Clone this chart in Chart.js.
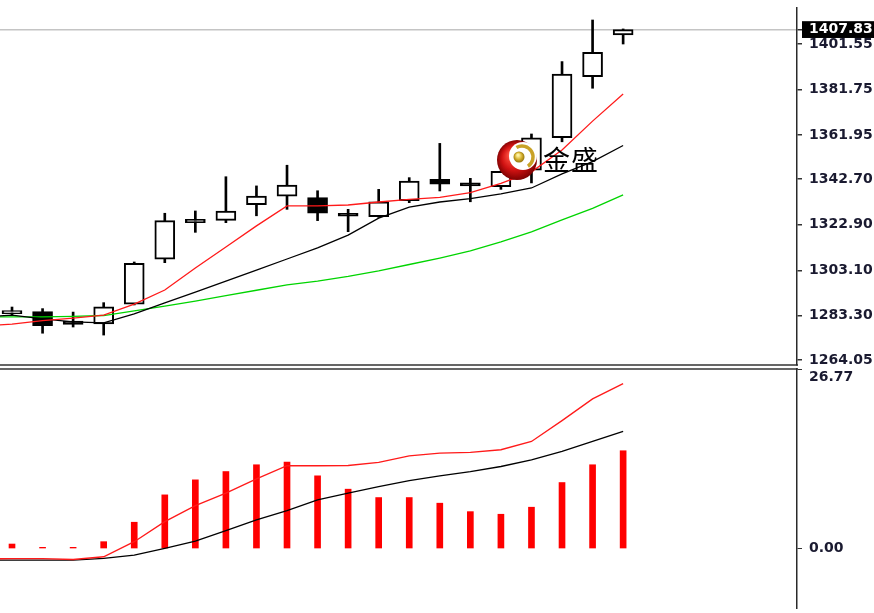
<!DOCTYPE html>
<html>
<head>
<meta charset="utf-8">
<script src="https://cdn.jsdelivr.net/npm/chart.js@4.4.1/dist/chart.umd.min.js"></script>
<style>
html, body { margin:0; padding:0; background:#fff; }
#wrap { position:relative; width:874px; height:613px; overflow:hidden; background:#fff; }
#priceChart { position:absolute; left:0; top:-20px; }
#oscChart { position:absolute; left:0; top:340px; }
#logo { position:absolute; left:492px; top:135px; }
#brand { position:absolute; left:543px; top:144px; font-family:"Noto Sans CJK SC"; font-size:27px; line-height:30px; letter-spacing:1px; color:#000; }
</style>
</head>
<body>
<div id="wrap">
<canvas id="priceChart" width="874" height="402"></canvas>
<canvas id="oscChart" width="874" height="290"></canvas>
<canvas id="logo" width="50" height="50"></canvas>
<div id="brand">金盛</div>
</div>
<script>
// candles, one per bar (index 0..20)
const opens  = [1284.2, 1285.1, 1281.0, 1279.7, 1288.3, 1307.9, 1323.8, 1324.8, 1331.6, 1335.3, 1334.7, 1326.8, 1326.4, 1333.4, 1342.7, 1341.1, 1339.5, 1346.7, 1360.8, 1387.3, 1405.5];
const highs  = [1287.1, 1286.4, 1284.9, 1289.0, 1306.7, 1327.9, 1328.9, 1343.8, 1339.8, 1348.8, 1337.7, 1329.6, 1338.3, 1343.4, 1358.3, 1343.1, 1346.3, 1362.4, 1393.9, 1412.0, 1408.1];
const lows   = [1283.6, 1275.7, 1278.4, 1274.9, 1288.0, 1306.4, 1319.6, 1323.8, 1326.8, 1329.6, 1324.7, 1319.9, 1326.1, 1332.5, 1337.6, 1332.9, 1338.3, 1341.1, 1359.0, 1382.3, 1401.55];
const closes = [1284.4, 1279.0, 1279.5, 1287.2, 1306.1, 1324.7, 1325.3, 1328.9, 1335.4, 1340.2, 1327.9, 1326.6, 1332.9, 1341.9, 1340.6, 1339.8, 1346.2, 1360.7, 1388.5, 1397.9, 1407.83];

// moving averages (index -1..20, first one is off the left edge)
const maFast = [1278.8, 1279.7, 1281.2, 1282.3, 1283.6, 1288.4, 1294.5, 1304.1, 1313.2, 1322.4, 1331.1, 1331.1, 1331.5, 1332.8, 1333.9, 1334.8, 1336.9, 1340.9, 1345.9, 1355.4, 1368.0, 1379.8];
const maMid  = [1282.8, 1283.6, 1281.9, 1280.6, 1280.2, 1284.1, 1288.9, 1293.6, 1298.4, 1303.2, 1308.0, 1312.8, 1318.4, 1325.8, 1330.6, 1332.8, 1334.3, 1336.3, 1338.9, 1345.0, 1350.4, 1357.4];
const maSlow = [1282.8, 1282.8, 1282.8, 1283.0, 1283.4, 1285.4, 1287.5, 1289.7, 1292.1, 1294.4, 1296.7, 1298.4, 1300.4, 1302.8, 1305.6, 1308.4, 1311.5, 1315.4, 1319.8, 1325.0, 1330.0, 1335.9];

// lower window
const hist     = [0.67, 0.18, 0.18, 1.02, 3.92, 8.0, 10.24, 11.48, 12.49, 12.89, 10.84, 8.85, 7.60, 7.60, 6.76, 5.50, 5.11, 6.16, 9.84, 12.49, 14.58];
const oscRed   = [-1.57, -1.50, -1.50, -1.64, -1.23, 1.02, 4.01, 6.40, 8.25, 10.39, 12.34, 12.34, 12.38, 12.83, 13.83, 14.24, 14.33, 14.73, 15.97, 19.07, 22.31, 24.60];
const oscBlack = [-1.72, -1.72, -1.72, -1.72, -1.47, -0.97, 0.03, 1.12, 2.66, 4.26, 5.65, 7.25, 8.25, 9.24, 10.14, 10.84, 11.48, 12.23, 13.23, 14.48, 15.97, 17.47];

// axis labels
const priceTicks = [1264.05, 1283.30, 1303.10, 1322.90, 1342.70, 1361.95, 1381.75, 1401.55, 1407.83];
const lastPrice = 1407.83;
const oscTicks = [0, 26.77];

const xMin = -0.393, xMax = 25.69;
const labelFont = { family: 'DejaVu Sans', size: 14, weight: 'bold' };
const labelColor = '#1a1a30';

const barIdx = opens.map((_, i) => i);
const lineIdx = maFast.map((_, i) => i - 1);
const bodyColors = opens.map((o, i) => closes[i] >= o ? '#ffffff' : '#000000');

const lineSet = (vals, color) => ({
    type: 'line',
    data: lineIdx.map((x, i) => ({ x: x, y: vals[i] })),
    borderColor: color,
    borderWidth: 1.3,
    pointRadius: 0,
    tension: 0,
    order: 1
});

const xScale = (pos) => ({
    type: 'linear', min: xMin, max: xMax, position: pos, offset: false,
    ticks: { display: false },
    grid: { display: false, drawTicks: false, tickLength: 0 },
    border: { display: true, color: '#666', width: 2 }
});

new Chart(document.getElementById('priceChart'), {
    type: 'bar',
    data: {
        datasets: [
            {
                data: barIdx.map(i => ({ x: i, y: [lows[i], highs[i]] })),
                backgroundColor: '#000', borderWidth: 0,
                barThickness: 2, grouped: false, order: 3
            },
            {
                data: barIdx.map(i => ({ x: i, y: [opens[i], closes[i]] })),
                backgroundColor: bodyColors, borderColor: '#000', borderWidth: 2,
                borderSkipped: false, barThickness: 20, minBarLength: 3,
                grouped: false, order: 2
            },
            lineSet(maFast, '#ff1a1a'),
            lineSet(maMid, '#000000'),
            lineSet(maSlow, '#00d400')
        ]
    },
    options: {
        responsive: false,
        animation: false,
        layout: { padding: { top: 28, bottom: 17, left: 0, right: 0 } },
        plugins: { legend: { display: false }, tooltip: { enabled: false } },
        scales: {
            x: xScale('bottom'),
            y: {
                type: 'linear', position: 'right', bounds: 'data',
                min: 1261.87, max: 1417.22,
                afterBuildTicks: (s) => { s.ticks = priceTicks.map(v => ({ value: v })); },
                afterFit: (s) => { s.width = 77; },
                ticks: {
                    autoSkip: false, padding: 7, font: labelFont,
                    color: (c) => c.tick && c.tick.value === lastPrice ? '#ffffff' : labelColor,
                    showLabelBackdrop: (c) => c.tick && c.tick.value === lastPrice,
                    backdropColor: '#000000',
                    backdropPadding: { top: 0, bottom: 0, left: 7, right: 3 },
                    callback: (v) => v.toFixed(2)
                },
                grid: {
                    drawOnChartArea: true, tickLength: 5, tickColor: '#333', lineWidth: 1.5,
                    color: (c) => c.tick && c.tick.value === lastPrice ? '#c4c4c4' : 'rgba(0,0,0,0)'
                },
                border: { display: true, color: '#2a2a2a', width: 1.5 }
            }
        }
    }
});

new Chart(document.getElementById('oscChart'), {
    type: 'bar',
    data: {
        datasets: [
            {
                data: barIdx.map(i => ({ x: i, y: hist[i] })),
                backgroundColor: '#ff0000', borderWidth: 0,
                barThickness: 6, grouped: false, order: 2
            },
            lineSet(oscRed, '#ff1a1a'),
            lineSet(oscBlack, '#000000')
        ]
    },
    options: {
        responsive: false,
        animation: false,
        layout: { padding: { top: 29, bottom: 22, left: 0, right: 0 } },
        plugins: { legend: { display: false }, tooltip: { enabled: false } },
        scales: {
            x: xScale('top'),
            y: {
                type: 'linear', position: 'right', bounds: 'data',
                min: -8.87, max: 26.77,
                afterBuildTicks: (s) => { s.ticks = oscTicks.map(v => ({ value: v })); },
                afterFit: (s) => { s.width = 77; },
                ticks: {
                    autoSkip: false, padding: 7, font: labelFont, color: labelColor,
                    callback: (v) => v === 26.77 ? ['', '26.77'] : v.toFixed(2)
                },
                grid: { drawOnChartArea: false, tickLength: 5, tickColor: '#333' },
                border: { display: true, color: '#2a2a2a', width: 1.5 }
            }
        }
    }
});

// logo mark
const lg = document.getElementById('logo').getContext('2d');
const rg = lg.createRadialGradient(19, 20, 2, 25, 25, 21);
rg.addColorStop(0, '#ff5040');
rg.addColorStop(0.55, '#d01212');
rg.addColorStop(1, '#760000');
lg.fillStyle = rg;
lg.beginPath(); lg.arc(25, 25, 20, 0, Math.PI * 2); lg.fill();
lg.fillStyle = '#ffffff';
lg.beginPath(); lg.arc(31, 21, 14, 0, Math.PI * 2); lg.fill();
lg.strokeStyle = '#c9a227'; lg.lineWidth = 3.5;
lg.beginPath(); lg.arc(30, 22, 11, -2.1, 1.0); lg.stroke();
const gg = lg.createRadialGradient(26, 20, 1, 27, 22, 6);
gg.addColorStop(0, '#fff2a0');
gg.addColorStop(0.5, '#d4b030');
gg.addColorStop(1, '#8a6a00');
lg.fillStyle = gg;
lg.beginPath(); lg.arc(27, 22, 5.5, 0, Math.PI * 2); lg.fill();
</script>
</body>
</html>
